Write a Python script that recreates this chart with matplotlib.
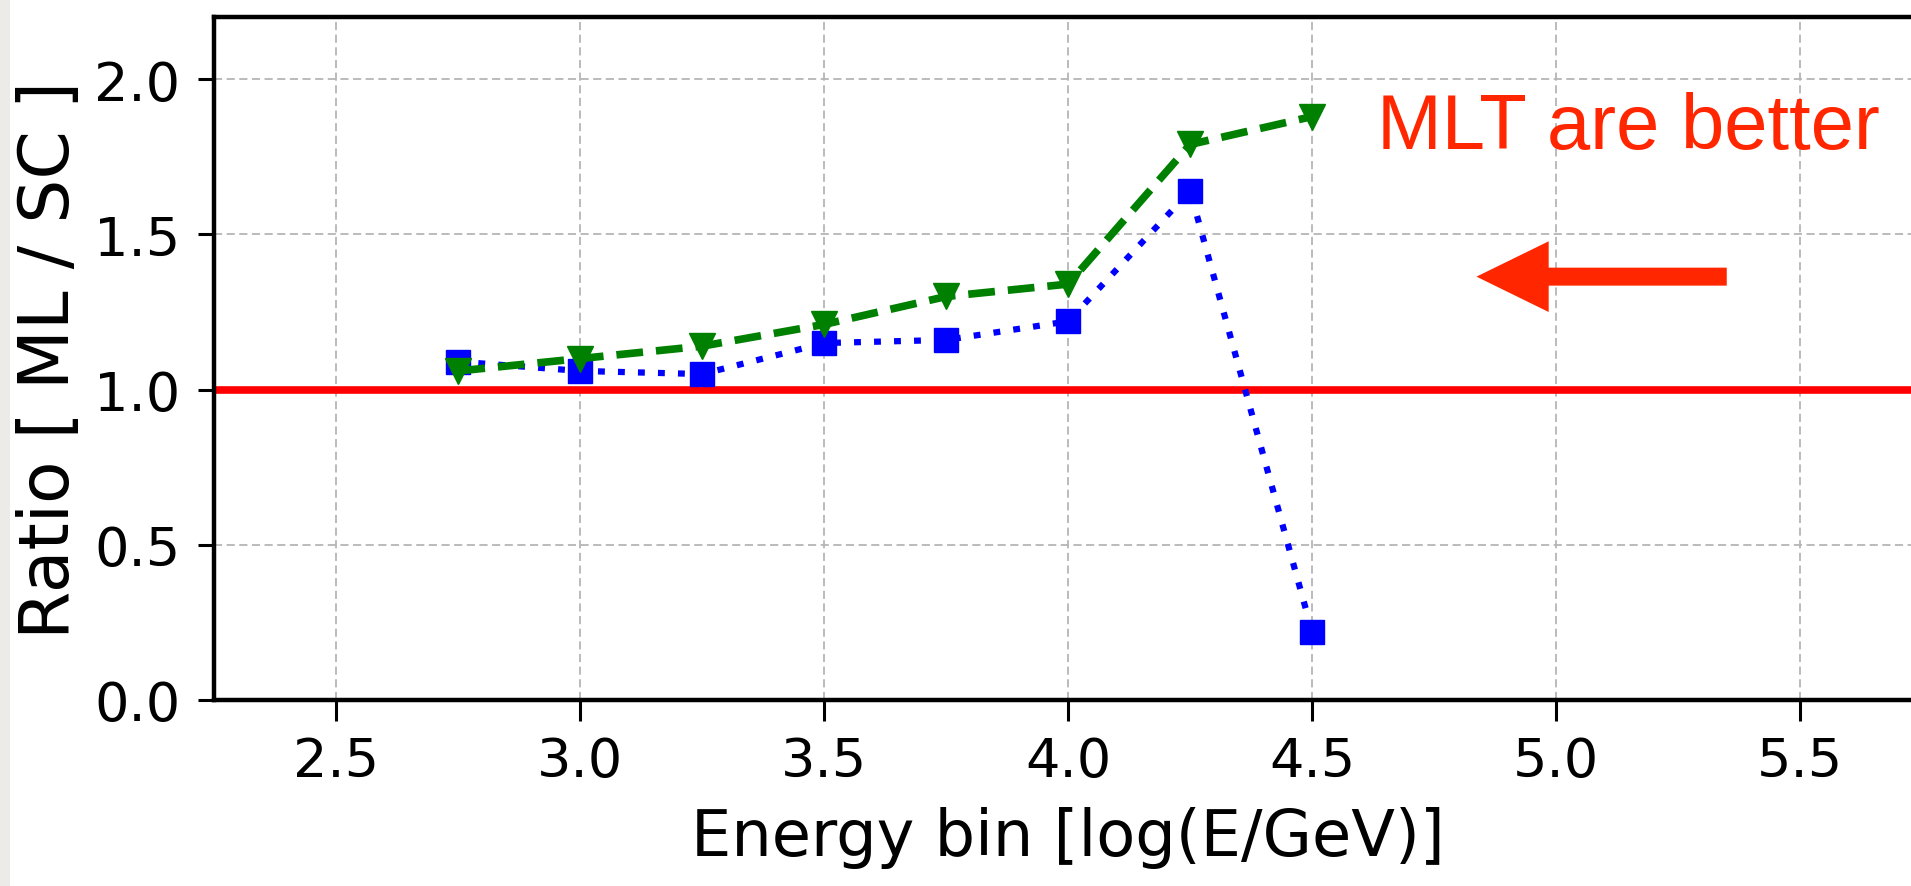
import matplotlib
matplotlib.use('Agg')
from matplotlib import pyplot as plt
from matplotlib.patches import Rectangle, FancyArrow

# values
energy_bins = [2.75, 3.0, 3.25, 3.5, 3.75, 4.0, 4.25, 4.5]
ratio_blue = [1.09, 1.06, 1.05, 1.15, 1.16, 1.22, 1.64, 0.22]
ratio_green = [1.06, 1.10, 1.14, 1.21, 1.30, 1.34, 1.79, 1.88]
x_ticks = [2.5, 3.0, 3.5, 4.0, 4.5, 5.0, 5.5]
y_ticks = [0.0, 0.5, 1.0, 1.5, 2.0]

plt.rcParams['font.family'] = 'DejaVu Sans'
fig = plt.figure(figsize=(19.11, 8.87), dpi=100)
# right spine lies just outside the picture, as in the cropped slide
ax = fig.add_axes([0.1122, 0.2099, 0.8935, 0.7695])

ax.axhline(1.0, color='red', lw=5.5, zorder=2)
ax.plot(energy_bins, ratio_blue, color='blue', ls=(0, (1.1, 2.1)), lw=4.5,
        marker='s', ms=17, zorder=3)
ax.plot(energy_bins, ratio_green, color='green', ls=(0, (3.5, 1.7)), lw=5.5,
        marker='v', ms=19, zorder=4)

ax.set_xlim(2.25, 5.75)
ax.set_ylim(0, 2.2)
ax.set_xticks(x_ticks)
ax.set_yticks(y_ticks)
ax.grid(True, color='#b5b5b5', lw=1.3, ls=(0, (4.5, 2.5)))
ax.tick_params(axis='x', length=15, width=2.2, pad=10, labelsize=39)
ax.tick_params(axis='y', length=11.5, width=2.2, pad=13, labelsize=39)
for s in ax.spines.values():
    s.set_linewidth(3.2)

ax.set_xlabel('Energy bin [log(E/GeV)]', fontsize=46, labelpad=14)
ax.set_ylabel('Ratio [ ML / SC ]', fontsize=50, labelpad=8)

# slide annotation
ax.text(4.634, 1.779, 'MLT are better', fontsize=56, color='#ff2600',
        family='Liberation Sans', va='baseline', clip_on=False)
ax.add_patch(FancyArrow(5.35, 1.364, -0.513, 0, width=0.058, head_width=0.228,
                        head_length=0.148, length_includes_head=True,
                        color='#ff2600', lw=0, zorder=5))

# grey slide edge on the left
fig.patches.append(Rectangle((0, 0), 0.005, 1, transform=fig.transFigure,
                             facecolor='#ecebe8', edgecolor='none'))

fig.savefig('out.png', dpi=100)
